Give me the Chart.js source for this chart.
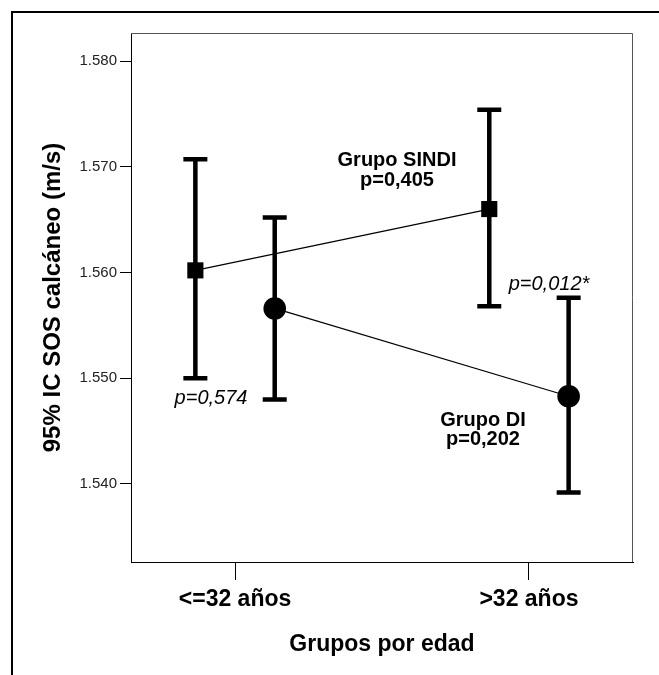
<!DOCTYPE html>
<html>
<head>
<meta charset="utf-8">
<script src="https://cdn.jsdelivr.net/npm/chart.js@4"></script>
<style>
  html, body { margin: 0; padding: 0; background: #fff; }
  canvas { display: block; }
</style>
</head>
<body>
<canvas id="chart" width="659" height="675"></canvas>
<script>
const categories = ['<=32 años', '>32 años'];
const yTicks = [1.540, 1.550, 1.560, 1.570, 1.580];

// Grupo SINDI (squares)
const sindiMean = [1.5602, 1.5660];
const sindiLow  = [1.5500, 1.5568];
const sindiHigh = [1.5707, 1.5754];

// Grupo DI (circles)
const diMean = [1.5566, 1.5483];
const diLow  = [1.5480, 1.5392];
const diHigh = [1.5652, 1.5576];

const dodge = 0.135;
const FONT = "'Liberation Sans', Arial, Helvetica, sans-serif";

const notes = [
  { text: 'Grupo SINDI', x: 397, y: 160, style: 'bold' },
  { text: 'p=0,405', x: 397, y: 180, style: 'bold' },
  { text: 'p=0,574', x: 211, y: 398, style: 'italic' },
  { text: 'p=0,012*', x: 549, y: 284, style: 'italic' },
  { text: 'Grupo DI', x: 483, y: 420, style: 'bold' },
  { text: 'p=0,202', x: 483, y: 439, style: 'bold' }
];

function toPoints(vals, shift) {
  return vals.map((v, i) => ({ x: i + 1 + shift, y: v }));
}

const errorBars = {
  id: 'errorBars',
  beforeDatasetsDraw(chart) {
    const ctx = chart.ctx;
    const xs = chart.scales.x, ys = chart.scales.y;
    const groups = [
      { lo: sindiLow, hi: sindiHigh, shift: -dodge },
      { lo: diLow, hi: diHigh, shift: dodge }
    ];
    ctx.save();
    ctx.strokeStyle = '#000';
    ctx.lineWidth = 4.5;
    ctx.lineCap = 'butt';
    groups.forEach(g => {
      g.lo.forEach((lo, i) => {
        const px = xs.getPixelForValue(i + 1 + g.shift);
        const y1 = ys.getPixelForValue(lo);
        const y2 = ys.getPixelForValue(g.hi[i]);
        ctx.beginPath();
        ctx.moveTo(px, y1);
        ctx.lineTo(px, y2);
        ctx.moveTo(px - 12, y1);
        ctx.lineTo(px + 12, y1);
        ctx.moveTo(px - 12, y2);
        ctx.lineTo(px + 12, y2);
        ctx.stroke();
      });
    });
    ctx.restore();
  }
};

const frames = {
  id: 'frames',
  afterDraw(chart) {
    const ctx = chart.ctx;
    const a = chart.chartArea;
    ctx.save();
    // plot box top and right
    ctx.strokeStyle = '#555';
    ctx.lineWidth = 1;
    ctx.beginPath();
    ctx.moveTo(a.left, a.top + 0.5);
    ctx.lineTo(a.right - 0.5, a.top + 0.5);
    ctx.lineTo(a.right - 0.5, a.bottom);
    ctx.stroke();
    // outer frame
    ctx.strokeStyle = '#000';
    ctx.lineWidth = 2;
    ctx.strokeRect(12, 12, 700, 700);
    // annotations
    ctx.fillStyle = '#000';
    ctx.textAlign = 'center';
    ctx.textBaseline = 'middle';
    notes.forEach(n => {
      ctx.font = n.style + ' 20px ' + FONT;
      ctx.fillText(n.text, n.x, n.y);
    });
    ctx.restore();
  }
};

new Chart(document.getElementById('chart'), {
  type: 'line',
  data: {
    datasets: [
      {
        label: 'Grupo SINDI',
        data: toPoints(sindiMean, -dodge),
        borderColor: '#000',
        borderWidth: 1.2,
        backgroundColor: '#000',
        pointStyle: 'rect',
        pointRadius: 11.4,
        pointBorderWidth: 0
      },
      {
        label: 'Grupo DI',
        data: toPoints(diMean, dodge),
        borderColor: '#000',
        borderWidth: 1.2,
        backgroundColor: '#000',
        pointStyle: 'circle',
        pointRadius: 11.3,
        pointBorderWidth: 0
      }
    ]
  },
  options: {
    responsive: false,
    animation: false,
    layout: { padding: { top: 33, right: 26, left: 0, bottom: 0 } },
    plugins: { legend: { display: false }, tooltip: { enabled: false } },
    scales: {
      x: {
        type: 'linear',
        min: 0.646,
        max: 2.354,
        afterBuildTicks: s => { s.ticks = categories.map((c, i) => ({ value: i + 1 })); },
        afterFit: s => { s.height = 113; },
        grid: { drawOnChartArea: false, drawTicks: true, tickLength: 18, color: '#000' },
        border: { color: '#000', width: 1 },
        ticks: {
          padding: 6,
          color: '#000',
          font: { family: FONT, size: 23, weight: 'bold' },
          callback: (v, i) => categories[i]
        },
        title: {
          display: true,
          text: 'Grupos por edad',
          color: '#000',
          font: { family: FONT, size: 23, weight: 'bold' },
          padding: { top: 0, bottom: 17 }
        }
      },
      y: {
        type: 'linear',
        min: 1.53262,
        max: 1.58265,
        afterBuildTicks: s => { s.ticks = yTicks.map(v => ({ value: v })); },
        afterFit: s => { s.width = 131; },
        grid: { drawOnChartArea: false, drawTicks: true, tickLength: 11, color: '#000' },
        border: { color: '#000', width: 1 },
        ticks: {
          padding: 3,
          color: '#222',
          font: { family: FONT, size: 15 },
          callback: v => v.toFixed(3)
        },
        title: {
          display: true,
          text: '95% IC SOS calcáneo (m/s)',
          color: '#000',
          font: { family: FONT, size: 24, weight: 'bold' },
          padding: { top: 39, bottom: 0 }
        }
      }
    }
  },
  plugins: [errorBars, frames]
});
</script>
</body>
</html>
